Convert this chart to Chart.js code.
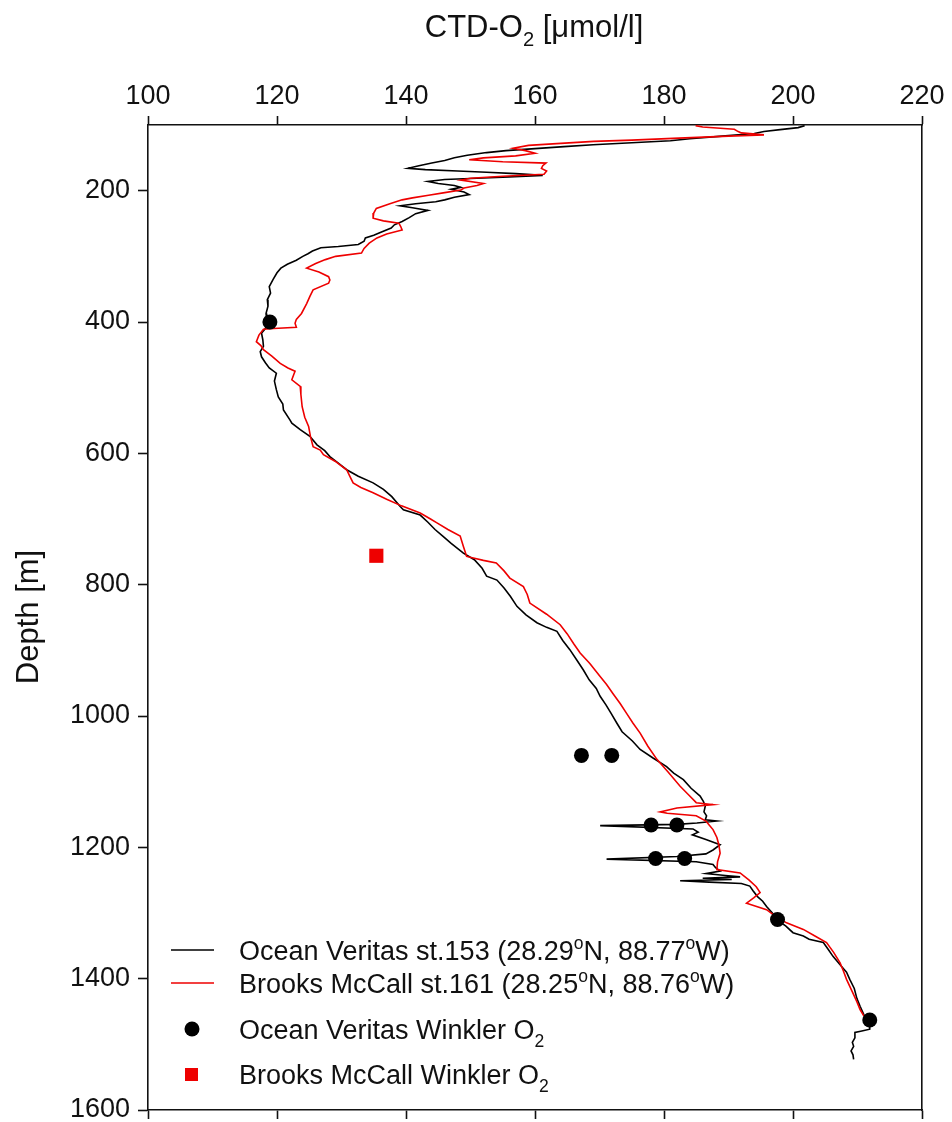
<!DOCTYPE html>
<html>
<head>
<meta charset="utf-8">
<script src="https://cdn.jsdelivr.net/npm/chart.js@4"></script>
<style>
  html, body { margin: 0; padding: 0; background: #fff; }
  #wrap { width: 952px; height: 1122px; }
</style>
</head>
<body>
<div id="wrap"><canvas id="profileChart" width="952" height="1122"></canvas></div>
<script>
// axis ticks
var xTicks = [100, 120, 140, 160, 180, 200, 220];
var yTicks = [200, 400, 600, 800, 1000, 1200, 1400, 1600];

// Ocean Veritas st.153 CTD profile (depth m / O2 umol/l)
var veritasDepth = [101,104,107,110,113,117,121,124,127,130,133,136,139,142,146,150,154,158,162,166,168,170,172,174,176,177,179,181,183,186,189,192,195,198,202,206,210,214,217,220,223,226,230,235,241,247,252,257,263,268,272,277,282,285,287,292,296,300,306,312,318,325,335,346,356,366,376,387,397,402,410,417,427,437,445,453,462,470,478,490,503,514,525,534,549,554,564,574,587,596,605,615,625,635,645,655,666,681,686,694,705,716,726,737,752,762,775,787,793,805,818,833,846,858,865,871,885,899,915,930,945,958,970,983,996,1011,1024,1038,1051,1064,1077,1087,1097,1110,1122,1130,1137,1146,1152,1158,1160,1163,1165,1167,1172,1177,1181,1188,1196,1204,1210,1214,1218,1222,1226,1231,1236,1240,1243,1245,1247,1249,1251,1253,1255,1259,1266,1275,1282,1290,1300,1310,1320,1330,1335,1340,1345,1356,1366,1380,1390,1401,1415,1430,1442,1455,1462,1470,1477,1480,1482,1490,1497,1503,1510,1516,1523];
var veritasO2 = [201.8,200.8,198,195.5,194,189,184,181,175,169,164.5,160,155.5,152.5,149.5,147.5,146,144,142,140.3,143,148,152.5,157,160,161.2,156,151,146,143.4,145,147.5,148.5,147,149,149.8,147.5,146,144.6,141.5,139.1,141,143.4,141.5,140.5,139.4,138.2,137.7,136.2,135,133.7,133.5,132.6,129.5,126.8,125.5,124.8,124,123,121.6,120.6,120,119.4,118.8,119,118.5,118.6,118.3,118.4,118.7,118.2,117.6,117.8,117.9,117.4,117.6,118.2,118.8,119.9,119.6,119.9,120.2,120.9,121,122,122.3,123.6,125.1,126.2,127.4,128.2,129.5,130.8,132.6,134.9,136.5,137.8,139.1,139.6,142.2,143.4,144.5,145.7,147,148.9,150.6,151.8,152.5,154.1,155.2,156.2,157.2,158.6,160.3,161.8,163.4,164.3,165.4,166.5,167.5,168.4,169.5,170.1,171,171.8,172.7,173.5,175.1,176.3,178.3,180.4,181.5,183,184.2,185.6,186.1,186.4,186.2,186.6,186.4,188.2,185.1,182,170.1,184.5,185.3,184.4,186.5,188.7,187.6,186.5,182,171.1,185,187.6,188,188.7,186.5,189.5,191.8,186,190.5,182.5,187,192,193.3,193.8,194.5,195.3,195.9,196.8,197.5,198.9,200,201.6,202.5,204.7,205.5,206.2,207.4,208.3,208.8,209.5,209.9,210.4,211,211.4,211.8,211.9,210.5,209.6,209.6,209.2,209.4,209,209.3,209.4];

// Brooks McCall st.161 CTD profile
var brooksDepth = [101,103,106.5,110,112,115,117,120,123,125,128,131,135.5,139,143,147,150,153,156,158,162,166,170,175,178,181,184,189,192,196,199,203,207,211,214,220,227,234,242,246,249.6,255,260,266,272,280,288,295,300,305,311,318,324,331,336,341,351,361,372,387,396,402,408,410,411,420,430,436,442,452,463,470,475,480,488,498,510,529,545,559,575,590,595,602,612,625,635,645,652,660,670,680,691,700,706,716,726,742,757,763,767,779,790,803,815,828,845,861,875,890,904,920,940,952,966,981,996,1011,1026,1046,1066,1086,1107,1120,1132,1135,1140,1146,1148,1152,1160,1166,1173,1185,1196,1209,1222,1234,1239,1250,1260,1269,1277,1285,1295,1305,1315,1325,1335,1345,1360,1376,1388,1401,1420,1435,1447,1457];
var brooksO2 = [184.9,186,190.9,191.5,192,195.5,190,182.3,175,169.1,164,159,156.6,158.5,160,157,152,149.8,155,161.7,161.2,161,161.8,161.4,155,150,148.5,152,151,149,148.5,146,143.5,141,139.4,137.5,135.4,135,134.9,136.5,138.9,139.2,139.4,137,135.5,134.3,133.5,133.1,129.1,127.5,126,124.6,126.5,128,128.2,128,125.6,125.1,124.6,123.8,123,122.8,123,119.5,117.9,117.2,116.8,117.5,117.9,119.2,120.5,121.7,122.8,122.6,122.3,123.6,123.7,123.9,124.3,124.9,125.2,125.6,126.7,127.2,129,130.8,131.3,131.8,133,134.9,137,139.3,142.2,143.8,144.8,146.5,148.4,148.9,149.4,152,154,155.2,156.1,158.2,158.8,159.2,161.8,163.9,165,166,167,168.5,170.1,171.1,172.1,173.2,174.2,175.2,176.3,177.5,178.9,180.7,182.5,183.8,185,187.6,182,179.4,180.5,185,186.5,187,187.6,188.2,188.5,188.7,188.3,188.2,191.8,193.2,194.3,194.9,193.9,192.8,195.9,197.3,199,201.6,203.4,205.2,206.3,207.3,207.8,208.3,209.2,209.9,210.4,211];

// Winkler bottle samples
var veritasWinklerDepth = [400, 1060, 1060, 1166, 1166, 1217, 1217, 1310, 1463];
var veritasWinklerO2 = [118.9, 167.2, 171.9, 178, 182, 178.7, 183.2, 197.6, 211.9];
var brooksWinklerDepth = [756];
var brooksWinklerO2 = [135.4];

var FONT = "'Liberation Sans', Arial, sans-serif";
var RED = '#ee0000';

function toPoints(depth, vals) {
    return depth.map(function(d, i) { return { x: vals[i], y: d }; });
}

// draws text with sub/superscript parts, returns end x
function drawRich(ctx, parts, x, y, size) {
    parts.forEach(function(p) {
        var s = p[1] ? size * 0.65 : size;
        var dy = p[1] === 'sup' ? -size * 0.38 : (p[1] === 'sub' ? size * 0.3 : 0);
        ctx.font = s + 'px ' + FONT;
        ctx.fillText(p[0], x, y + dy);
        x += ctx.measureText(p[0]).width;
    });
    return x;
}
function richWidth(ctx, parts, size) {
    var w = 0;
    parts.forEach(function(p) {
        ctx.font = (p[1] ? size * 0.65 : size) + 'px ' + FONT;
        w += ctx.measureText(p[0]).width;
    });
    return w;
}

var labelsPlugin = {
    id: 'labelsPlugin',
    afterDraw: function(chart) {
        var ctx = chart.ctx;
        ctx.save();
        ctx.fillStyle = '#111';
        ctx.textAlign = 'left';
        ctx.textBaseline = 'alphabetic';

        // top axis title
        var title = [['CTD-O'], ['2', 'sub'], [' [\u03bcmol/l]']];
        var tw = richWidth(ctx, title, 31);
        drawRich(ctx, title, 534 - tw / 2, 37, 31);

        // left axis title
        ctx.save();
        ctx.translate(38, 617);
        ctx.rotate(-Math.PI / 2);
        ctx.font = '31px ' + FONT;
        ctx.textAlign = 'center';
        ctx.fillText('Depth [m]', 0, 0);
        ctx.restore();

        // legend
        var lx = 239, fs = 27;
        ctx.lineWidth = 1.6;
        ctx.strokeStyle = '#000';
        ctx.beginPath(); ctx.moveTo(171, 950); ctx.lineTo(214, 950); ctx.stroke();
        drawRich(ctx, [['Ocean Veritas st.153 (28.29'], ['o', 'sup'], ['N, 88.77'], ['o', 'sup'], ['W)']], lx, 950 + fs * 0.36, fs);

        ctx.strokeStyle = RED;
        ctx.beginPath(); ctx.moveTo(171, 983); ctx.lineTo(214, 983); ctx.stroke();
        drawRich(ctx, [['Brooks McCall st.161 (28.25'], ['o', 'sup'], ['N, 88.76'], ['o', 'sup'], ['W)']], lx, 983 + fs * 0.36, fs);

        ctx.fillStyle = '#000';
        ctx.beginPath(); ctx.arc(192, 1029, 7.5, 0, Math.PI * 2); ctx.fill();
        ctx.fillStyle = '#111';
        drawRich(ctx, [['Ocean Veritas Winkler O'], ['2', 'sub']], lx, 1029 + fs * 0.36, fs);

        ctx.fillStyle = RED;
        ctx.fillRect(185, 1068, 13, 13);
        ctx.fillStyle = '#111';
        drawRich(ctx, [['Brooks McCall Winkler O'], ['2', 'sub']], lx, 1074 + fs * 0.36, fs);
        ctx.restore();
    }
};

var axisLine = { display: true, color: '#111', width: 1.6 };
var tickFont = { family: FONT, size: 27 };
function noPad(s) { s.paddingTop = 0; s.paddingBottom = 0; s.paddingLeft = 0; s.paddingRight = 0; }

new Chart(document.getElementById('profileChart'), {
    type: 'scatter',
    data: {
        datasets: [
            { label: 'Ocean Veritas Winkler O2', data: toPoints(veritasWinklerDepth, veritasWinklerO2),
              pointRadius: 7.5, pointStyle: 'circle', backgroundColor: '#000', borderWidth: 0, order: 0 },
            { label: 'Brooks McCall Winkler O2', data: toPoints(brooksWinklerDepth, brooksWinklerO2),
              pointRadius: 10, pointStyle: 'rect', backgroundColor: RED, borderWidth: 0, order: 1 },
            { label: 'Brooks McCall st.161', data: toPoints(brooksDepth, brooksO2), showLine: true,
              borderColor: RED, borderWidth: 1.6, pointRadius: 0, tension: 0, order: 2 },
            { label: 'Ocean Veritas st.153', data: toPoints(veritasDepth, veritasO2), showLine: true,
              borderColor: '#000', borderWidth: 1.6, pointRadius: 0, tension: 0, order: 3 }
        ]
    },
    options: {
        responsive: false,
        animation: false,
        layout: { padding: 0 },
        plugins: { legend: { display: false }, tooltip: { enabled: false }, title: { display: false } },
        scales: {
            x: {
                type: 'linear', position: 'top', min: 100, max: 220,
                afterBuildTicks: function(s) { s.ticks = xTicks.map(function(v) { return { value: v }; }); },
                afterFit: function(s) { s.height = 125; noPad(s); },
                ticks: { font: tickFont, color: '#111', padding: 3, maxRotation: 0, callback: function(v) { return String(v); } },
                grid: { drawOnChartArea: false, tickLength: 9, tickColor: '#111', tickWidth: 1.6 },
                border: axisLine
            },
            x2: {
                type: 'linear', position: 'bottom', min: 100, max: 220,
                afterBuildTicks: function(s) { s.ticks = xTicks.map(function(v) { return { value: v }; }); },
                afterFit: function(s) { s.height = 12; noPad(s); },
                ticks: { display: false },
                grid: { drawOnChartArea: false, tickLength: 9, tickColor: '#111', tickWidth: 1.6 },
                border: axisLine
            },
            y: {
                type: 'linear', position: 'left', reverse: true, min: 100, max: 1600,
                afterBuildTicks: function(s) { s.ticks = yTicks.map(function(v) { return { value: v }; }); },
                afterFit: function(s) { s.width = 148; noPad(s); },
                ticks: { font: tickFont, color: '#111', padding: 8, callback: function(v) { return String(v); } },
                grid: { drawOnChartArea: false, tickLength: 10, tickColor: '#111', tickWidth: 1.6 },
                border: axisLine
            },
            y2: {
                type: 'linear', position: 'right', reverse: true, min: 100, max: 1600,
                afterFit: function(s) { s.width = 30; noPad(s); },
                ticks: { display: false },
                grid: { drawOnChartArea: false, drawTicks: false },
                border: axisLine
            }
        }
    },
    plugins: [labelsPlugin]
});
</script>
</body>
</html>
